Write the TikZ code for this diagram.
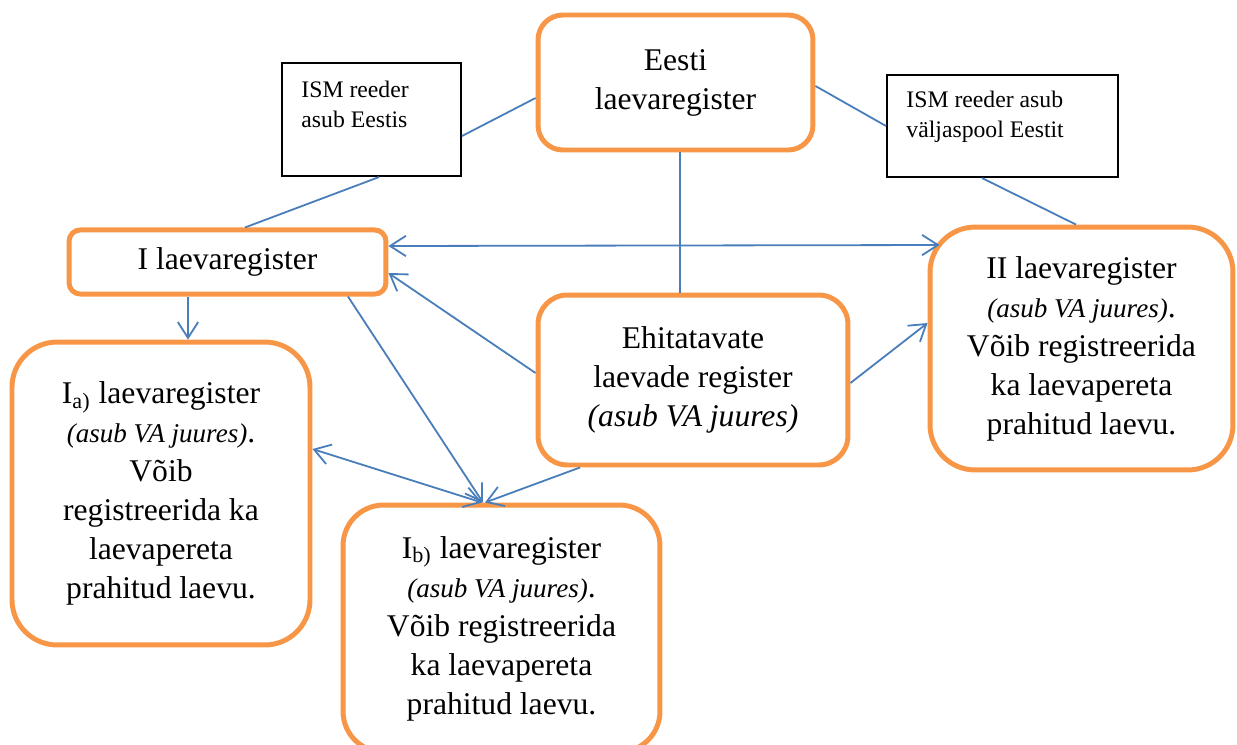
\documentclass[tikz,border=0pt]{standalone}
\usepackage{fontspec}
\setmainfont{Liberation Serif}
\usetikzlibrary{arrows.meta}

\definecolor{boxorange}{HTML}{F79646}
\definecolor{lineblue}{HTML}{4A7EBB}

\tikzset{
    regbox/.style={draw=boxorange, line width=2.2pt, fill=white, align=center,
        inner sep=0pt, font=\fontsize{14}{17.3}\selectfont},
    ismbox/.style={draw=black, line width=0.9pt, fill=white, inner sep=0pt},
    ismtext/.style={anchor=north west, align=left, inner sep=0pt,
        font=\fontsize{10.5}{13.3}\selectfont},
    link/.style={draw=lineblue, line width=0.8pt},
    arr/.style={link, -{Straight Barb[length=7pt,width=9pt]}},
    darr/.style={link, {Straight Barb[length=7pt,width=9pt]}-{Straight Barb[length=7pt,width=9pt]}}
}

\begin{document}
\begin{tikzpicture}[x=0.443pt,y=-0.443pt]
    \useasboundingbox (0,0) rectangle (1237,744);

    % registers
    \node [regbox, rounded corners=11pt, minimum width=121.8pt, minimum height=59.8pt]
        (eesti) at (675.5,82.5) {Eesti\\laevaregister};
    \node [regbox, rounded corners=5pt, minimum width=140.4pt, minimum height=28.4pt]
        (ireg) at (227.5,262) {I laevaregister};
    \node [regbox, rounded corners=13pt, minimum width=137.3pt, minimum height=75.3pt]
        (ehit) at (693,380) {Ehitatavate\\laevade register\\\textit{(asub VA juures)}};
    \node [regbox, rounded corners=20pt, minimum width=134.2pt, minimum height=107.6pt]
        (iireg) at (1081.5,348.5) {II laevaregister\\{\fontsize{12}{14}\selectfont\itshape (asub VA juures)}.\\V\~oib registreerida\\ka laevapereta\\prahitud laevu.};
    \node [regbox, rounded corners=20pt, minimum width=132pt, minimum height=134.2pt]
        (ia) at (161,493.5) {I\textsubscript{a)} laevaregister\\{\fontsize{12}{14}\selectfont\itshape (asub VA juures)}.\\V\~oib\\registreerida ka\\laevapereta\\prahitud laevu.};
    \node [regbox, rounded corners=18pt, minimum width=140.4pt, minimum height=109.4pt]
        (ib) at (501.5,628.5) {I\textsubscript{b)} laevaregister\\{\fontsize{12}{14}\selectfont\itshape (asub VA juures)}.\\V\~oib registreerida\\ka laevapereta\\prahitud laevu.};

    % ISM boxes
    \node [ismbox, minimum width=79.3pt, minimum height=50.1pt] (ismee) at (371.5,119.5) {};
    \node [ismtext] (ismeetxt) at ([shift={(20,19)}]ismee.north west) {ISM reeder\\asub Eestis};
    \node [ismbox, minimum width=102.3pt, minimum height=45.2pt] (ismva) at (1002.5,126) {};
    \node [ismtext] (ismvatxt) at ([shift={(20,17)}]ismva.north west) {ISM reeder asub\\väljaspool Eestit};

    % plain links
    \draw [link] ([shift={(0,15.5)}]eesti.west) -- ([shift={(0,16.5)}]ismee.east);
    \draw [link] ([shift={(7.5,0)}]ismee.south) -- ([shift={(17.5,0)}]ireg.north);
    \draw [link] ([shift={(0,3.5)}]eesti.east) -- (ismva.west);
    \draw [link] ([shift={(-20.5,0)}]ismva.south) -- ([shift={(-5.5,0)}]iireg.north);
    \draw [link] ([shift={(4.5,0)}]eesti.south) -- ([shift={(-13,0)}]ehit.north);

    % arrows
    \draw [darr] ([shift={(0,-16)}]ireg.east) -- ([shift={(12,-103.5)}]iireg.west);
    \draw [arr] ([shift={(0,-7)}]ehit.west) -- ([shift={(0,11)}]ireg.east);
    \draw [arr] ([shift={(0,3)}]ehit.east) -- ([shift={(0,-25.5)}]iireg.west);
    \draw [arr] ([shift={(-39.5,0)}]ireg.south) -- ([shift={(27,0)}]ia.north);
    \draw [arr] ([shift={(120.5,0)}]ireg.south) -- ([shift={(-18.5,0)}]ib.north);
    \draw [darr] ([shift={(0,-44.5)}]ia.east) -- ([shift={(-19.5,0)}]ib.north);
    \draw [arr] ([shift={(-113,0)}]ehit.south) -- ([shift={(-16.5,0)}]ib.north);
\end{tikzpicture}
\end{document}
